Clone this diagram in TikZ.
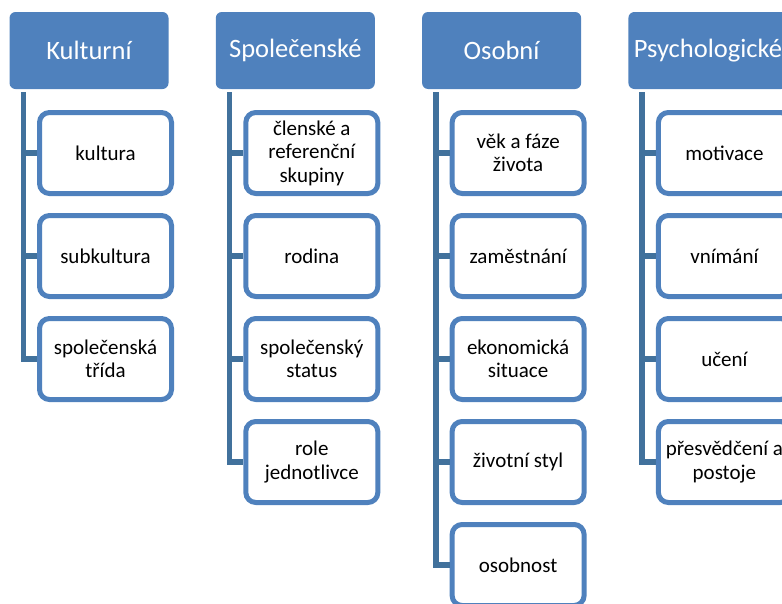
\documentclass[tikz,border=0pt]{standalone}
\usepackage{fontspec}
\setmainfont{Carlito}
\definecolor{hdrblue}{HTML}{4F81BD}
\definecolor{boxblue}{HTML}{4F81BD}
\definecolor{lineblue}{HTML}{41719C}
\tikzset{
  header/.style={fill=hdrblue, text=white, rounded corners=6pt, minimum width=159pt, minimum height=77pt, inner sep=0pt, font=\fontsize{26.5}{30}\selectfont, align=center},
  child/.style={draw=boxblue, fill=white, line width=5pt, rounded corners=10pt, minimum width=132pt, minimum height=81pt, inner sep=0pt, text=black, font=\fontsize{21}{23.5}\selectfont, align=center},
  conn/.style={draw=lineblue, line width=5.5pt}
}
\begin{document}
\begin{tikzpicture}[x=1pt,y=-1pt]
\useasboundingbox (0,0) rectangle (782,603);
\clip (0,0) rectangle (782,603);
% headers
\node[header] (h1) at (89,50.5) {Kulturní};
\node[header] (h2) at (295.3,50.5) {Společenské};
\node[header] (h3) at (501.6,50.5) {Osobní};
\node[header] (h4) at (707.9,50.5) {Psychologické};
% column 1
\node[child] (c11) at (105.5,153) {kultura};
\node[child] (c12) at (105.5,256) {subkultura};
\node[child] (c13) at (105.5,359) {společenská\\třída};
% column 2
\node[child] (c21) at (311.8,153) {členské a\\referenční\\skupiny};
\node[child] (c22) at (311.8,256) {rodina};
\node[child] (c23) at (311.8,359) {společenský\\status};
\node[child] (c24) at (311.8,462) {role\\jednotlivce};
% column 3
\node[child] (c31) at (518.1,153) {věk a fáze\\života};
\node[child] (c32) at (518.1,256) {zaměstnání};
\node[child] (c33) at (518.1,359) {ekonomická\\situace};
\node[child] (c34) at (518.1,462) {životní styl};
\node[child] (c35) at (518.1,565) {osobnost};
% column 4
\node[child] (c41) at (724.4,153) {motivace};
\node[child] (c42) at (724.4,256) {vnímání};
\node[child] (c43) at (724.4,359) {učení};
\node[child] (c44) at (724.4,462) {přesvědčení a\\postoje};
% connector tops
\coordinate (v1) at (23.3,92);
\coordinate (v2) at (229.6,92);
\coordinate (v3) at (435.9,92);
\coordinate (v4) at (642.2,92);
% column 1 connectors
\draw[conn] (v1) |- (c13.west);
\draw[conn] (c11.west) -- (c11.west -| v1);
\draw[conn] (c12.west) -- (c12.west -| v1);
% column 2 connectors
\draw[conn] (v2) |- (c24.west);
\draw[conn] (c21.west) -- (c21.west -| v2);
\draw[conn] (c22.west) -- (c22.west -| v2);
\draw[conn] (c23.west) -- (c23.west -| v2);
% column 3 connectors
\draw[conn] (v3) |- (c35.west);
\draw[conn] (c31.west) -- (c31.west -| v3);
\draw[conn] (c32.west) -- (c32.west -| v3);
\draw[conn] (c33.west) -- (c33.west -| v3);
\draw[conn] (c34.west) -- (c34.west -| v3);
% column 4 connectors
\draw[conn] (v4) |- (c44.west);
\draw[conn] (c41.west) -- (c41.west -| v4);
\draw[conn] (c42.west) -- (c42.west -| v4);
\draw[conn] (c43.west) -- (c43.west -| v4);
\end{tikzpicture}
\end{document}
